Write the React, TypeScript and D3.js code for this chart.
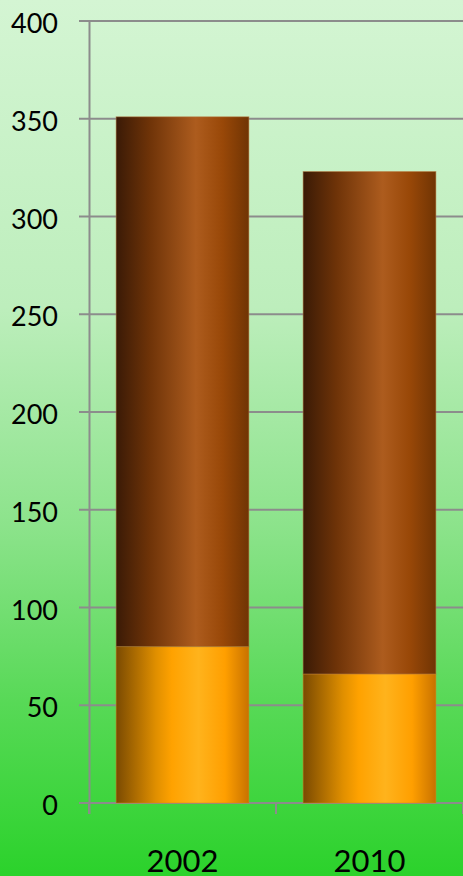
import React from "react";
import * as d3 from "d3";

const categories = ["2002", "2010"];
const lowerValues = [80, 66];
const upperValues = [271, 257];
const yTicks = [0, 50, 100, 150, 200, 250, 300, 350, 400];

const W = 463;
const H = 876;

export default function App() {
  const y = d3.scaleLinear().domain([0, 400]).range([803, 21]);
  const x = d3
    .scaleBand<string>()
    .domain(categories)
    .range([89, 463])
    .paddingInner(0.29)
    .paddingOuter(0.145);
  const step = x.step();
  const rows = categories.map((c, i) => ({ cat: c, lower: lowerValues[i], upper: upperValues[i] }));
  const stack = d3.stack<any>().keys(["lower", "upper"]);
  const series = stack(rows);
  const fills = ["url(#gOrange)", "url(#gBrown)"];
  const catTicks = d3.range(categories.length + 1).map((i) => 89 + i * step);
  const font = "Lato, 'Open Sans', sans-serif";

  return (
    <svg
      width={W}
      height={H}
      style={{ position: "fixed", left: 0, top: 0, display: "block" }}
    >
      <defs>
        <linearGradient id="gBg" x1="0" y1="0" x2="0" y2="1">
          <stop offset="0" stopColor="#d4f5d3" />
          <stop offset="0.35" stopColor="#bdeebc" />
          <stop offset="0.6" stopColor="#8ce38b" />
          <stop offset="0.8" stopColor="#58d957" />
          <stop offset="1" stopColor="#2bd22b" />
        </linearGradient>
        <linearGradient id="gBrown" x1="0" y1="0" x2="1" y2="0">
          <stop offset="0" stopColor="#3a1a06" />
          <stop offset="0.25" stopColor="#6e3308" />
          <stop offset="0.6" stopColor="#ad5c1e" />
          <stop offset="0.8" stopColor="#994808" />
          <stop offset="1" stopColor="#703404" />
        </linearGradient>
        <linearGradient id="gOrange" x1="0" y1="0" x2="1" y2="0">
          <stop offset="0" stopColor="#7a4a02" />
          <stop offset="0.3" stopColor="#e08f00" />
          <stop offset="0.42" stopColor="#ffa200" />
          <stop offset="0.62" stopColor="#ffb31c" />
          <stop offset="0.82" stopColor="#ff9f00" />
          <stop offset="1" stopColor="#c87200" />
        </linearGradient>
      </defs>
      <rect x={0} y={0} width={W} height={H} fill="url(#gBg)" />
      {yTicks.map((t) => (
        <line key={"g" + t} x1={79} x2={W} y1={y(t)} y2={y(t)} stroke="#8c8c8c" strokeWidth={2} />
      ))}
      <line x1={89.5} x2={89.5} y1={y(400) - 1} y2={814} stroke="#8c8c8c" strokeWidth={2} />
      {catTicks.map((cx, i) => (
        <line key={"ct" + i} x1={cx} x2={cx} y1={y(0)} y2={814} stroke="#8c8c8c" strokeWidth={2} />
      ))}
      {series.map((s, si) =>
        s.map((d, i) => (
          <rect
            key={si + "-" + i}
            x={x(categories[i])}
            width={x.bandwidth()}
            y={y(d[1])}
            height={y(d[0]) - y(d[1])}
            fill={fills[si]}
            stroke={si === 0 ? "#d08a20" : "#b87a40"}
            strokeOpacity={0.5}
            strokeWidth={1}
          />
        ))
      )}
      {yTicks.map((t) => (
        <text
          key={"yl" + t}
          x={58}
          y={y(t) + 12}
          textAnchor="end"
          fontFamily={font}
          fontSize={27}
          fill="#000"
        >
          {t}
        </text>
      ))}
      {categories.map((c) => (
        <text
          key={"xl" + c}
          x={(x(c) as number) + x.bandwidth() / 2}
          y={872}
          textAnchor="middle"
          fontFamily={font}
          fontSize={31}
          fill="#000"
        >
          {c}
        </text>
      ))}
    </svg>
  );
}
